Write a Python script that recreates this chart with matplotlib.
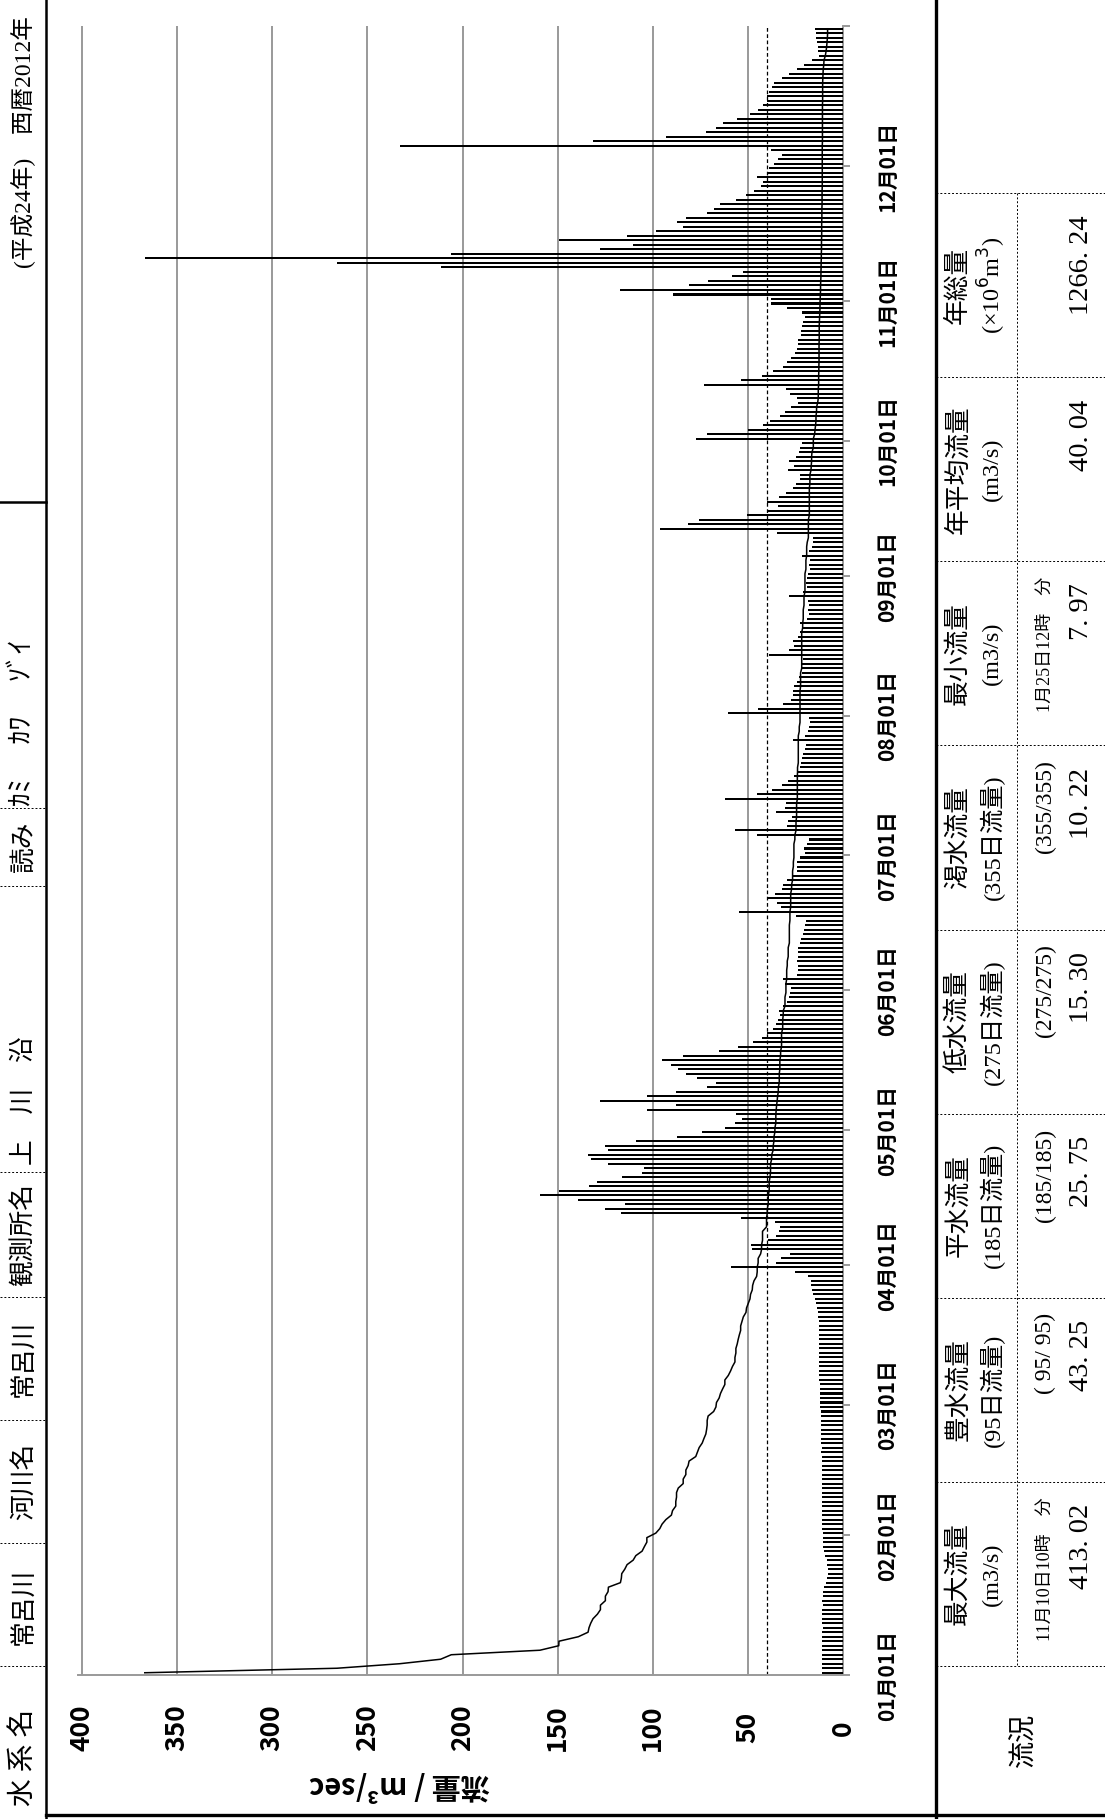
import numpy as np
import matplotlib
matplotlib.use('Agg')
import matplotlib.pyplot as plt

W, H = 1105, 1819

# 日流量 (m3/s) 2012年 常呂川 上川沿
jan = [10.9, 10.8, 10.9, 11.0, 10.9, 10.8, 10.8, 10.9, 10.9, 10.8, 10.7, 10.8, 10.9, 10.9, 10.8, 10.7,
       10.8, 10.7, 10.5, 10.0, 8.9, 8.4, 8.1, 8.1, 8.2, 8.6, 9.3, 10.1, 10.4, 10.6, 10.7]
feb = [10.7, 10.8, 10.8, 10.9, 10.9, 11.0, 10.9, 11.0, 11.0, 11.1, 11.1, 11.2, 11.2, 11.1, 11.2,
       11.3, 11.2, 11.3, 11.4, 11.3, 11.4, 11.5, 11.5, 11.6, 11.6, 11.7, 11.8, 11.8, 11.9]
mar = [12.0, 12.1, 12.1, 12.2, 12.3, 12.4, 12.5, 12.6, 12.8, 12.8, 12.7, 12.6, 12.6, 12.5, 12.5, 12.6,
       12.6, 12.7, 12.8, 13.0, 13.3, 13.9, 14.4, 14.9, 15.6, 16.3, 16.7, 16.8, 18.2, 25.3, 59.1]
apr = [35.1, 32.8, 27.9, 47.7, 48.6, 39.3, 35.3, 33.5, 33.2, 35.8, 53.8, 116.5, 124.9, 114.7, 139.1,
       159.3, 149.4, 133.5, 129.1, 116.3, 105.6, 104.4, 123.3, 132.6, 134.0, 123.5, 124.9, 108.9, 87.5, 74.0]
may = [62.1, 56.8, 53.1, 56.3, 103.1, 87.9, 127.5, 103.1, 87.9, 71.4, 66.5, 76.5, 82.6, 86.6, 90.2,
       95.1, 84.0, 65.1, 55.1, 47.5, 42.8, 39.8, 36.7, 35.3, 34.0, 33.2, 33.5, 31.4, 29.3, 28.2, 27.9]
jun = [27.5, 30.5, 31.4, 24.4, 23.5, 23.9, 24.0, 23.5, 23.9, 23.5, 22.6, 22.3, 21.2, 20.5, 20.0,
       19.5, 24.7, 54.5, 32.8, 34.9, 39.3, 35.8, 32.3, 31.7, 29.6, 27.0, 24.4, 24.4, 24.0, 22.6]
jul = [20.0, 20.5, 19.1, 17.7, 45.4, 56.8, 29.6, 28.8, 27.0, 35.3, 30.5, 30.0, 62.1, 45.1, 37.5, 32.3,
       28.8, 25.8, 24.0, 22.6, 22.3, 21.7, 20.9, 20.0, 19.5, 26.5, 20.0, 18.2, 17.7, 17.4, 17.7]
aug = [60.3, 44.6, 31.7, 27.5, 26.5, 26.1, 25.8, 24.0, 23.0, 21.7, 21.7, 21.7, 21.2, 38.8, 28.2, 25.8,
       26.1, 23.5, 22.6, 21.7, 22.6, 19.1, 17.7, 18.2, 17.7, 18.2, 28.2, 20.9, 18.8, 19.5, 19.1]
sep = [18.2, 17.4, 17.7, 17.4, 21.7, 17.7, 16.5, 15.6, 15.6, 34.6, 96.3, 81.4, 75.6, 50.7, 40.2,
       34.4, 39.8, 33.5, 30.0, 26.5, 24.7, 22.6, 22.6, 28.8, 25.8, 28.2, 24.7, 23.0, 22.6, 21.7]
oct_ = [77.4, 71.4, 49.8, 42.3, 38.4, 33.2, 30.5, 27.5, 23.5, 24.0, 27.9, 30.0, 73.1, 53.8, 42.8, 36.7,
        31.7, 29.6, 27.5, 25.3, 24.0, 23.5, 23.5, 22.3, 22.3, 21.7, 20.9, 20.0, 21.7, 29.3, 38.1]
nov = [38.1, 89.6, 117.0, 80.9, 70.9, 58.1, 52.4, 211.5, 266.0, 367.0, 205.9, 127.5, 110.3, 149.3, 113.5,
       98.4, 84.0, 87.5, 82.6, 71.7, 68.0, 64.4, 56.3, 51.0, 46.8, 43.3, 42.3, 45.1, 39.3, 38.8]
dec = [36.3, 34.0, 32.3, 38.1, 233.1, 131.4, 93.1, 72.1, 66.8, 63.3, 55.6, 48.9, 44.6, 42.3, 40.2, 40.2,
       38.8, 37.5, 36.3, 32.3, 28.2, 24.4, 20.5, 16.5, 12.5, 13.0, 13.0, 13.9, 14.2, 14.2, 14.7]

flow = np.array(jan + feb + mar + apr + may + jun + jul + aug + sep + oct_ + nov + dec)
days = np.arange(len(flow))

month_starts = [0, 31, 60, 91, 121, 152, 182, 213, 244, 274, 305, 335, 366]
month_labels = ['01月01日', '02月01日', '03月01日', '04月01日', '05月01日', '06月01日',
                '07月01日', '08月01日', '09月01日', '10月01日', '11月01日', '12月01日', '']
flow_ticks = [0, 50, 100, 150, 200, 250, 300, 350, 400]
annual_mean = 40.04

# 流況表 (左から右へ: 最大流量 ... 年総量)
table_head1 = ['最大流量', '豊水流量', '平水流量', '低水流量', '渇水流量', '最小流量', '年平均流量', '年総量']
table_head2 = ['(m3/s)', '(95日流量)', '(185日流量)', '(275日流量)', '(355日流量)', '(m3/s)', '(m3/s)',
               r'(×10$^6$m$^3$)']
table_sub = ['11月10日10時　分', '( 95/ 95)', '(185/185)', '(275/275)', '(355/355)', '1月25日12時　分', '', '']
table_val = ['413. 02', '43. 25', '25. 75', '15. 30', '10. 22', '7. 97', '40. 04', '1266. 24']

header_txt = ['水 系 名', '常呂川', '河川名', '常呂川', '観測所名', '読み']
header_mid = [1757, 1606, 1481, 1358, 1234, 847]

SERIF = ['Liberation Serif', 'Noto Sans CJK JP']
GOTH = ['Noto Sans CJK JP', 'DejaVu Sans']

fig = plt.figure(figsize=(W / 100, H / 100), dpi=100)
fig.patch.set_facecolor('white')

# 枠線と文字用の背景軸 (ピクセル座標)
bg = fig.add_axes([0, 0, 1, 1])
bg.set_xlim(0, W)
bg.set_ylim(H, 0)
bg.axis('off')

bg.plot([46, 46], [0, H], color='black', lw=1.8)
bg.plot([0, 46], [502, 502], color='black', lw=1.8)
bg.plot([936, 936], [0, H], color='black', lw=2.4)
bg.plot([46, W], [1815, 1815], color='black', lw=2.4)
for yy in [808, 886, 1172, 1297, 1420, 1543, 1666]:
    bg.plot([0, 46], [yy, yy], color='black', lw=0.7, ls=(0, (2, 2)))

cell = 184.1
t_bottom = 1666
for i in range(9):
    yy = t_bottom - cell * i
    bg.plot([936, W], [yy, yy], color='black', lw=0.7, ls=(0, (2, 2)))
bg.plot([1017, 1017], [t_bottom - cell * 8, t_bottom], color='black', lw=0.7, ls=(0, (2, 2)))

# 上部見出し
for txt, ym in zip(header_txt, header_mid):
    fs = 20 if txt.startswith('水') else 18.5
    bg.text(24, ym, txt, rotation=90, rotation_mode='anchor', ha='center', va='center',
            fontsize=fs, family=SERIF)
bg.text(24, 1165, '上　川　沿', rotation=90, rotation_mode='anchor', ha='left', va='center',
        fontsize=18.5, family=SERIF)
bg.text(24, 806, 'ｶﾐ　 ｶﾜ　 ｿﾞｲ', rotation=90, rotation_mode='anchor', ha='left', va='center',
        fontsize=20, family=SERIF)
bg.text(24, 268, '(平成24年)　西暦2012年', rotation=90, rotation_mode='anchor', ha='left', va='center',
        fontsize=17, family=SERIF)

# 流況表
for j in range(8):
    bot = t_bottom - cell * j
    top = bot - cell
    mid = (top + bot) / 2
    bg.text(958, mid, table_head1[j], rotation=90, rotation_mode='anchor', ha='center', va='center',
            fontsize=18.5, family=SERIF)
    bg.text(992, mid, table_head2[j], rotation=90, rotation_mode='anchor', ha='center', va='center',
            fontsize=17.5, family=SERIF)
    if table_sub[j]:
        fs = 13 if '時' in table_sub[j] else 17
        bg.text(1045, top + 15, table_sub[j], rotation=90, rotation_mode='anchor', ha='right',
                va='center', fontsize=fs, family=SERIF)
    bg.text(1082, top + 22, table_val[j], rotation=90, rotation_mode='anchor', ha='right',
            va='center', fontsize=20.5, family=SERIF)
bg.text(1025, 1740, '流況', rotation=90, rotation_mode='anchor', ha='center', va='center',
        fontsize=19.5, family=SERIF)

# 縦軸ラベル
bg.text(400, 1785, '流量 / m³/sec', rotation=180, ha='center', va='center',
        fontsize=21, fontweight='bold', family=GOTH)

# グラフ本体
x0, x_zero = 82, 843
xmax = 402
left_px = x_zero - (x_zero - x0) * xmax / 400
top_px, bot_px = 26.5, 1675
ax = fig.add_axes([left_px / W, 1 - bot_px / H, (x_zero - left_px) / W, (bot_px - top_px) / H])
ax.patch.set_alpha(0)

ax.barh(days + 0.5, flow, height=0.45, color='black', zorder=3)
ax.plot(np.sort(flow)[::-1], days + 0.5, color='black', lw=1.1, zorder=4)
ax.axvline(annual_mean, color='black', lw=0.9, ls=(0, (3, 2)), zorder=2)

ax.set_xlim(xmax, 0)
ax.set_ylim(0, 366)
ax.set_xticks(flow_ticks)
ax.set_xticklabels([str(v) for v in flow_ticks])
ax.grid(axis='x', color='#999999', lw=1.4)
ax.set_axisbelow(True)
ax.tick_params(axis='x', length=0, pad=38)
for lab in ax.get_xticklabels():
    lab.set_rotation(90)
    lab.set_va('center')
    lab.set_ha('center')
    lab.set_fontsize(19)
    lab.set_fontweight('bold')
    lab.set_family(GOTH)

ax.yaxis.tick_right()
ax.set_yticks(month_starts)
ax.set_yticklabels(month_labels)
ax.tick_params(axis='y', direction='out', length=5, width=1.4, color='#999999', pad=27)
for lab in ax.get_yticklabels():
    lab.set_rotation(90)
    lab.set_va('center')
    lab.set_ha('center')
    lab.set_fontsize(15)
    lab.set_fontweight('bold')
    lab.set_family(GOTH)

ax.spines['left'].set_visible(False)
ax.spines['top'].set_visible(False)
for s in ['right', 'bottom']:
    ax.spines[s].set_color('#999999')
    ax.spines[s].set_linewidth(1.4)

fig.savefig('out.png', dpi=100)
